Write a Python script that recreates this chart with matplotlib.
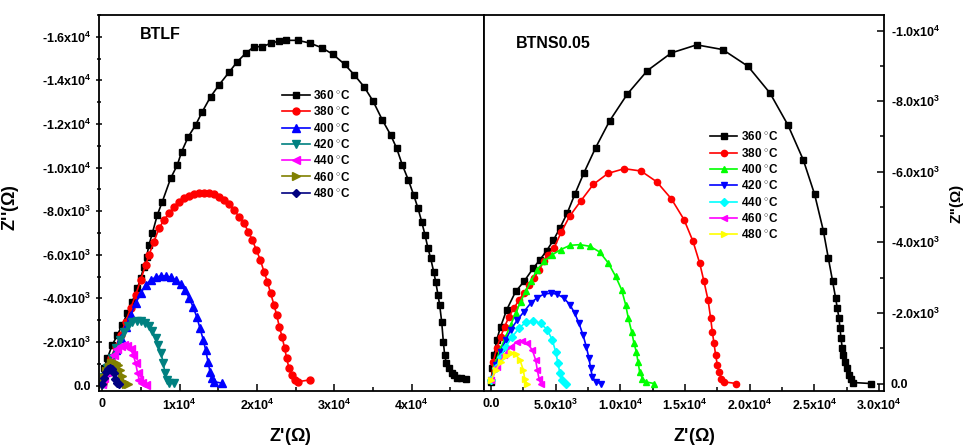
import matplotlib

matplotlib.use("Agg")
import matplotlib.pyplot as plt
import numpy as np
from matplotlib.ticker import FixedLocator, MultipleLocator

plt.rcParams["font.family"] = ["Liberation Sans", "DejaVu Sans"]
plt.rcParams["font.weight"] = "bold"
plt.rcParams["mathtext.fontset"] = "custom"
plt.rcParams["mathtext.rm"] = "Liberation Sans:bold"
plt.rcParams["mathtext.bf"] = "Liberation Sans:bold"

temps = ["360 $^{\\circ}$C", "380 $^{\\circ}$C", "400 $^{\\circ}$C", "420 $^{\\circ}$C",
         "440 $^{\\circ}$C", "460 $^{\\circ}$C", "480 $^{\\circ}$C"]

# ---- BTLF: Z' and -Z'' (ohm)
btlf_360_zre = [50, 194, 625, 1272, 1919, 2566, 3212, 3859, 4506, 4937, 5368, 5713, 6015, 6446, 7093,
                7740, 8818, 9680, 10241, 11103, 12052, 12914, 13992, 15070, 16364, 17442, 18520, 19598,
                20676, 21754, 22832, 23781, 25247, 26799, 28352, 29818, 31327, 32578, 33828, 34992,
                36199, 37277, 38053, 38786, 39562, 40252, 40813, 41287, 41718, 42106, 42451, 42839,
                43098, 43400, 43615, 43874, 44090, 44262, 44478, 44823, 45168, 45470, 45901, 46333, 46980]
btlf_360_zim = [100, 792, 1251, 1862, 2321, 2780, 3315, 3850, 4462, 4920, 5456, 5915, 6450, 6985, 7826,
                8437, 9508, 10119, 10731, 11419, 11954, 12566, 13254, 13789, 14370, 14859, 15241, 15547,
                15547, 15700, 15807, 15837, 15837, 15715, 15501, 15195, 14737, 14248, 13713, 13055,
                12184, 11496, 10884, 10120, 9432, 8744, 8132, 7520, 6909, 6297, 5838, 5227,
                4768, 4156, 3697, 2933, 2015, 1403, 1021, 792, 562, 486, 333, 364, 302]

btlf_380_zre = [30, 410, 1056, 1703, 2350, 2997, 3644, 4291, 4937, 5584, 6015, 6662, 7309, 7956, 8603,
                9249, 9896, 10543, 11190, 11837, 12484, 13130, 13777, 14424, 15071, 15718, 16365, 17011,
                17658, 18305, 18866, 19383, 19901, 20418, 20893, 21324, 21755, 22186, 22531, 22876,
                23221, 23566, 23825, 24127, 24472, 24903, 25334, 26800]
btlf_380_zim = [100, 715, 1251, 1786, 2321, 2933, 3544, 4156, 4844, 5532, 5991, 6602, 7214, 7596, 7902,
                8208, 8437, 8590, 8712, 8789, 8819, 8819, 8819, 8773, 8666, 8513, 8315, 8055,
                7749, 7443, 7061, 6679, 6220, 5761, 5226, 4768, 4232, 3697, 3238, 2703,
                2244, 1709, 1251, 792, 486, 257, 180, 257]

btlf_400_zre = [0, 410, 1056, 1703, 2350, 2997, 3644, 4291, 4937, 5584, 6231, 6878, 7525, 8172, 8819,
                9465, 10112, 10673, 11190, 11708, 12182, 12613, 13044, 13346, 13648, 13906, 14122,
                14424, 15502]
btlf_400_zim = [100, 638, 1098, 1633, 2168, 2703, 3238, 3773, 4232, 4614, 4844, 4966, 5027, 5027, 4966,
                4844, 4645, 4385, 4033, 3620, 3162, 2627, 2091, 1633, 1098, 639, 333,
                180, 104]

btlf_420_zre = [0, 194, 625, 1186, 1703, 2221, 2781, 3342, 3859, 4420, 4980, 5498, 6015, 6446, 6878,
                7223, 7568, 7869, 8085, 8301, 8603, 9249]
btlf_420_zim = [60, 408, 792, 1251, 1709, 2092, 2474, 2749, 2902, 2963, 2963, 2887, 2734, 2505, 2199,
                1862, 1480, 1021, 562, 257, 104, 104]

btlf_440_zre = [0, 194, 625, 1056, 1487, 1919, 2350, 2781, 3212, 3644, 3989, 4291, 4549, 4765, 5067, 5584]
btlf_440_zim = [60, 332, 638, 1021, 1403, 1663, 1816, 1862, 1816, 1663, 1403, 1021, 562, 257, 104, 30]

btlf_460_zre = [0, 200, 500, 800, 1100, 1400, 1700, 2000, 2300, 2550, 2750, 3000, 3300]
btlf_460_zim = [60, 350, 650, 870, 1020, 1080, 1050, 950, 720, 430, 180, 90, 60]

btlf_480_zre = [0, 200, 450, 700, 950, 1200, 1450, 1650, 1850, 2100]
btlf_480_zim = [50, 350, 620, 780, 810, 760, 560, 300, 120, 60]

# ---- BTNS0.05: Z' and -Z'' (ohm)
btns_360_zre = [0, 103, 232, 438, 747, 1211, 1907, 2551, 3273, 3788, 4304, 4819, 5334, 5901, 6494,
                7190, 8092, 9174, 10540, 12086, 13942, 15900, 17910, 19869, 21569, 22961, 24146,
                25022, 25692, 26079, 26414, 26646, 26775, 26904, 26981, 27059, 27162, 27239, 27368,
                27548, 27677, 27806, 28012, 29352]
btns_360_zim = [50, 427, 806, 1232, 1612, 2086, 2607, 2891, 3271, 3508, 3764, 4057, 4408, 4835, 5375,
                5972, 6683, 7442, 8200, 8864, 9366, 9594, 9461, 8987, 8228, 7319, 6333,
                5356, 4332, 3555, 2891, 2417, 2133, 1849, 1564, 1280, 995, 806, 616,
                427, 237, 114, 28, 0]

btns_380_zre = [30, 180, 438, 747, 1057, 1392, 1778, 2165, 2551, 2938, 3324, 3711, 4097, 4407, 4871,
                5437, 6082, 6932, 7911, 9045, 10308, 11597, 12808, 13942, 14921, 15617, 16132, 16467,
                16777, 16983, 17111, 17240, 17369, 17498, 17627, 17807, 18013, 18967]
btns_380_zim = [95, 616, 995, 1327, 1612, 1896, 2133, 2370, 2560, 2797, 2986, 3223, 3460, 3650, 3839,
                4294, 4740, 5167, 5641, 5953, 6086, 6020, 5716, 5233, 4645, 4029, 3413, 2891,
                2370, 1849, 1469, 1138, 806, 521, 332, 142, 47, 0]

btns_400_zre = [30, 361, 747, 1134, 1520, 1907, 2294, 2680, 3067, 3582, 4097, 4742, 5386, 6107, 6881,
                7654, 8401, 9071, 9638, 10102, 10411, 10617, 10875, 11055, 11235, 11364, 11493, 11699,
                11957, 12601]
btns_400_zim = [95, 616, 995, 1327, 1659, 1991, 2323, 2607, 2891, 3223, 3460, 3650, 3792, 3915, 3934,
                3887, 3726, 3413, 3034, 2654, 2228, 1849, 1469, 1138, 901, 616, 332, 142,
                47, 0]

btns_420_zre = [30, 361, 747, 1134, 1520, 2036, 2551, 3067, 3582, 4097, 4613, 5128, 5644, 6107, 6468,
                6803, 7112, 7370, 7576, 7705, 7834, 8092, 8478]
btns_420_zim = [95, 521, 901, 1232, 1517, 1801, 2038, 2275, 2436, 2531, 2560, 2531, 2417, 2228, 1991,
                1706, 1375, 1043, 711, 427, 190, 47, 0]

btns_440_zre = [30, 361, 747, 1134, 1649, 2165, 2680, 3273, 3840, 4355, 4742, 4999, 5180, 5334, 5515, 5772]
btns_440_zim = [95, 427, 758, 1043, 1327, 1564, 1735, 1773, 1706, 1517, 1232, 901, 569, 284, 95, 0]

btns_460_zre = [30, 490, 1005, 1520, 2036, 2422, 2809, 3195, 3453, 3582, 3711, 3840]
btns_460_zim = [95, 474, 806, 1043, 1185, 1204, 1138, 948, 664, 379, 142, 0]

btns_480_zre = [30, 361, 747, 1134, 1520, 1907, 2242, 2500, 2603, 2757]
btns_480_zim = [95, 379, 616, 787, 853, 825, 664, 379, 142, 0]

# ---- tick positions and labels
btlf_xticks = [0, 10000, 20000, 30000, 40000]
btlf_xlabels = ["0", "1x10$^{4}$", "2x10$^{4}$", "3x10$^{4}$", "4x10$^{4}$"]
btlf_yticks = [0, -2000, -4000, -6000, -8000, -10000, -12000, -14000, -16000]
btlf_ylabels = ["0.0", "-2.0x10$^{3}$", "-4.0x10$^{3}$", "-6.0x10$^{3}$", "-8.0x10$^{3}$",
                "-1.0x10$^{4}$", "-1.2x10$^{4}$", "-1.4x10$^{4}$", "-1.6x10$^{4}$"]
btns_xticks = [0, 5000, 10000, 15000, 20000, 25000, 30000]
btns_xlabels = ["0.0", "5.0x10$^{3}$", "1.0x10$^{4}$", "1.5x10$^{4}$", "2.0x10$^{4}$",
                "2.5x10$^{4}$", "3.0x10$^{4}$"]
btns_yticks = [0, -2000, -4000, -6000, -8000, -10000]
btns_ylabels = ["0.0", "-2.0x10$^{3}$", "-4.0x10$^{3}$", "-6.0x10$^{3}$", "-8.0x10$^{3}$",
                "-1.0x10$^{4}$"]

btlf_series = [
    (btlf_360_zre, btlf_360_zim, "black", "s", 4.0),
    (btlf_380_zre, btlf_380_zim, "#ff0000", "o", 5.0),
    (btlf_400_zre, btlf_400_zim, "#0000ff", "^", 5.5),
    (btlf_420_zre, btlf_420_zim, "#008080", "v", 5.5),
    (btlf_440_zre, btlf_440_zim, "#ff00ff", "<", 5.5),
    (btlf_460_zre, btlf_460_zim, "#808000", ">", 5.5),
    (btlf_480_zre, btlf_480_zim, "#000080", "D", 4.5),
]
btns_series = [
    (btns_360_zre, btns_360_zim, "black", "s", 4.0),
    (btns_380_zre, btns_380_zim, "#ff0000", "o", 4.5),
    (btns_400_zre, btns_400_zim, "#00ff00", "^", 5.0),
    (btns_420_zre, btns_420_zim, "#0000ff", "v", 5.0),
    (btns_440_zre, btns_440_zim, "#00ffff", "D", 4.5),
    (btns_460_zre, btns_460_zim, "#ff00ff", "<", 5.0),
    (btns_480_zre, btns_480_zim, "#ffff00", ">", 5.0),
]

fig = plt.figure(figsize=(9.68, 4.46), dpi=100)
W, H = 968, 446
ax1 = fig.add_axes([99 / W, 55 / H, 385 / W, 376 / H])
ax2 = fig.add_axes([484 / W, 55 / H, 400 / W, 376 / H])

for ax, series in ((ax1, btlf_series), (ax2, btns_series)):
    for (zre, zim, color, marker, ms), lab in zip(series, temps):
        ax.plot(zre, -np.asarray(zim), color=color, marker=marker, markersize=ms,
                linewidth=1.2, label=lab)
    for sp in ax.spines.values():
        sp.set_linewidth(1.3)

# left panel: BTLF
ax1.set_xlim(-450, 49350)
ax1.set_ylim(250, -17000)
ax1.xaxis.set_major_locator(FixedLocator(btlf_xticks))
ax1.set_xticklabels(btlf_xlabels)
ax1.xaxis.set_minor_locator(MultipleLocator(5000))
ax1.yaxis.set_major_locator(FixedLocator(btlf_yticks))
ax1.set_yticklabels(btlf_ylabels)
ax1.yaxis.set_minor_locator(MultipleLocator(1000))
ax1.tick_params(axis="x", which="both", direction="in", labelsize=9, pad=5)
ax1.tick_params(axis="y", which="both", direction="inout", labelsize=9, pad=3)
ax1.tick_params(which="major", length=5, width=1.1)
ax1.tick_params(which="minor", length=3, width=1.1)
ax1.set_xlabel("Z'($\\Omega$)", fontsize=13, fontweight="bold")
ax1.xaxis.set_label_coords(0.496, -0.094)
ax1.set_ylabel("Z''($\\Omega$)", fontsize=13, fontweight="bold")
ax1.yaxis.set_label_coords(-0.203, 0.487)
ax1.text(0.106, 0.947, "BTLF", transform=ax1.transAxes, fontsize=11.5,
         fontweight="bold", va="center", ha="left")
ax1.legend(loc="upper left", bbox_to_anchor=(0.455, 0.825), frameon=False, fontsize=8.5,
           handlelength=2.3, handletextpad=0.3, labelspacing=0.28, borderpad=0.2)

# right panel: BTNS0.05
ax2.set_xlim(-541, 30384)
ax2.set_ylim(212, -10440)
ax2.xaxis.set_major_locator(FixedLocator(btns_xticks))
ax2.set_xticklabels(btns_xlabels)
ax2.xaxis.set_minor_locator(MultipleLocator(2500))
ax2.yaxis.tick_right()
ax2.yaxis.set_label_position("right")
ax2.yaxis.set_major_locator(FixedLocator(btns_yticks))
ax2.set_yticklabels(btns_ylabels)
ax2.yaxis.set_minor_locator(MultipleLocator(1000))
ax2.tick_params(axis="both", which="both", direction="in", labelsize=9, pad=5)
ax2.tick_params(which="major", length=5, width=1.1)
ax2.tick_params(which="minor", length=3, width=1.1)
ax2.set_xlabel("Z'($\\Omega$)", fontsize=13, fontweight="bold")
ax2.xaxis.set_label_coords(0.525, -0.093)
ax2.set_ylabel("Z''($\\Omega$)", fontsize=11, fontweight="bold", rotation=90)
ax2.yaxis.set_label_coords(1.16, 0.497)
ax2.text(0.08, 0.924, "BTNS0.05", transform=ax2.transAxes, fontsize=11.5,
         fontweight="bold", va="center", ha="left")
ax2.legend(loc="upper left", bbox_to_anchor=(0.545, 0.715), frameon=False, fontsize=8.5,
           handlelength=2.3, handletextpad=0.3, labelspacing=0.28, borderpad=0.2)

fig.savefig("out.png", dpi=100)
